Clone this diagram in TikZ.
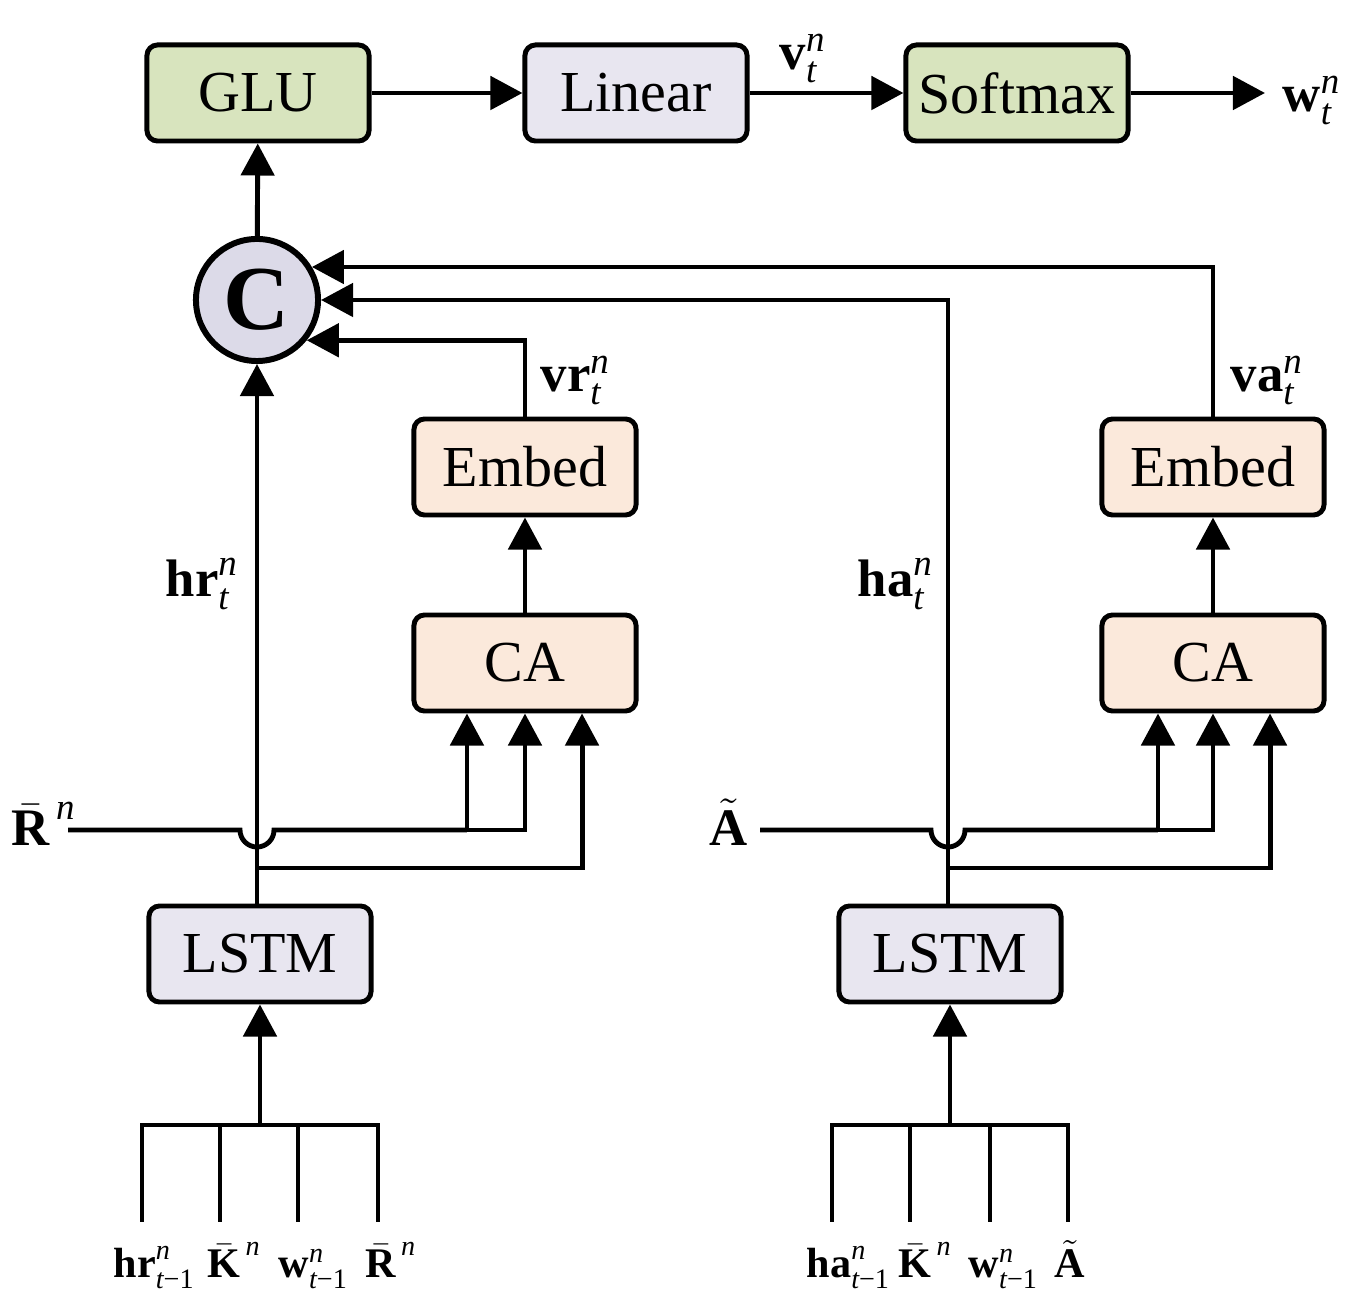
\documentclass[tikz,border=0pt]{standalone}
\usepackage{amsmath}
\usepackage{fontspec}
\setmainfont{Liberation Serif}
\usetikzlibrary{arrows.meta,positioning}

\definecolor{blockgreen}{RGB}{216,228,190}
\definecolor{blockgrey}{RGB}{232,230,240}
\definecolor{blockpeach}{RGB}{251,233,219}
\definecolor{catfill}{RGB}{220,218,232}

\begin{document}
\begin{tikzpicture}[x=0.01cm, y=-0.01cm,
        every node/.style={font=\fontsize{16.5}{20}\selectfont},
        block/.style={draw, line width=1.4pt, rounded corners=3pt, minimum width=2.22cm, minimum height=0.96cm, inner sep=0pt},
        wire/.style={line width=1.4pt},
        arr/.style={wire, -{Triangle[length=0.32cm, width=0.33cm]}},
        lbl/.style={inner sep=0pt, font=\fontsize{15}{18}\selectfont},
        inlbl/.style={inner sep=0pt, anchor=base west, font=\fontsize{12}{15}\selectfont}
    ]
    \useasboundingbox (0,0) rectangle (1354,1307);

    % top row
    \node[block, fill=blockgreen] (glu) at (258,93) {GLU};
    \node[block, fill=blockgrey] (lin) at (636,93) {Linear};
    \node[block, fill=blockgreen] (soft) at (1017,93) {Softmax};
    \node[lbl, anchor=base west] (wout) at (1282,112) {$\textbf{w}_{\textit{t}}^{\textit{n}}$};
    \node[lbl, anchor=base west] (vlab) at (779,70) {$\textbf{v}_{\textit{t}}^{\textit{n}}$};

    \draw[arr] (glu) -- (lin);
    \draw[arr] (lin) -- (soft);
    \draw[arr] (soft.east) -- ([xshift=-0.17cm]soft.east -| wout.west);

    % concatenation
    \node[circle, draw, line width=1.7pt, fill=catfill, minimum size=1.22cm, inner sep=0pt,
          font=\fontsize{26}{26}\selectfont\bfseries] (cat) at (257,300) {C};
    \draw[arr] (cat) -- (glu);

    % left branch
    \node[block, fill=blockpeach] (embL) at (525,467) {Embed};
    \node[block, fill=blockpeach] (caL) at (525,663) {CA};
    \node[block, fill=blockgrey] (lstmL) at (260,954) {LSTM};
    \draw[arr] (caL) -- (embL);
    \draw[arr] (embL.north) |- (cat.-39);
    \draw[arr] (lstmL.north -| cat) -- (cat);
    \node[lbl, anchor=base west] (vrlab) at (540,392) {$\textbf{vr}_{\textit{t}}^{\textit{n}}$};
    \node[lbl, anchor=base west] (hrlab) at (165,597) {$\textbf{hr}_{\textit{t}}^{\textit{n}}$};

    \node[lbl, anchor=base west] (rbar) at (11,846) {$\bar{\textbf{R}}^{\,\textit{n}}$};
    \coordinate (rin) at (68,830);
    \coordinate (hopL) at (257,830);
    \coordinate (jL) at (257,868);
    \draw[wire] (rin) -- ([xshift=-0.17cm]hopL) arc[start angle=180, end angle=360, radius=0.17cm]
        -- ([xshift=-0.58cm]caL.south |- rin);
    \draw[arr] ([xshift=-0.58cm]caL.south |- rin) -| (caL.south);
    \draw[arr] ([xshift=-0.58cm]caL.south |- rin) -- ([xshift=-0.58cm]caL.south);
    \draw[arr] (jL) -| ([xshift=0.57cm]caL.south);

    % right branch
    \node[block, fill=blockpeach] (embR) at (1213,467) {Embed};
    \node[block, fill=blockpeach] (caR) at (1213,663) {CA};
    \node[block, fill=blockgrey] (lstmR) at (950,954) {LSTM};
    \draw[arr] (caR) -- (embR);
    \draw[arr] (embR.north) |- (cat.31.6);
    \draw[arr] ([xshift=-0.02cm]lstmR.north) |- (cat.east);
    \node[lbl, anchor=base west] (valab) at (1230,392) {$\textbf{va}_{\textit{t}}^{\textit{n}}$};
    \node[lbl, anchor=base west] (halab) at (857,597) {$\textbf{ha}_{\textit{t}}^{\textit{n}}$};

    \node[lbl, anchor=base west] (atil) at (709,846) {$\tilde{\textbf{A}}$};
    \coordinate (ain) at (760,830);
    \coordinate (hopR) at (948,830);
    \coordinate (jR) at (948,868);
    \draw[wire] (ain) -- ([xshift=-0.17cm]hopR) arc[start angle=180, end angle=360, radius=0.17cm]
        -- ([xshift=-0.55cm]caR.south |- ain);
    \draw[arr] ([xshift=-0.55cm]caR.south |- ain) -| (caR.south);
    \draw[arr] ([xshift=-0.55cm]caR.south |- ain) -- ([xshift=-0.55cm]caR.south);
    \draw[arr] (jR) -| ([xshift=0.57cm]caR.south);

    % LSTM inputs, left
    \coordinate (busL) at (260,1125);
    \foreach \x/\nm in {142/a,220/b,298/c,378/d}
        \coordinate (legL\nm) at (\x,1222);
    \draw[wire] (legLa) |- (busL) -| (legLd);
    \draw[wire] (legLb) -- (legLb |- busL);
    \draw[wire] (legLc) -- (legLc |- busL);
    \draw[arr] (busL) -- (lstmL);
    \node[inlbl] (inLa) at (113,1278) {$\textbf{hr}_{\textit{t}\text{−1}}^{\textit{n}}$};
    \node[inlbl] (inLb) at (207,1278) {$\bar{\textbf{K}}^{\,\textit{n}}$};
    \node[inlbl] (inLc) at (278,1278) {$\textbf{w}_{\textit{t}\text{−1}}^{\textit{n}}$};
    \node[inlbl] (inLd) at (365,1278) {$\bar{\textbf{R}}^{\,\textit{n}}$};

    % LSTM inputs, right
    \coordinate (busR) at (950,1125);
    \foreach \x/\nm in {832/a,910/b,990/c,1068/d}
        \coordinate (legR\nm) at (\x,1222);
    \draw[wire] (legRa) |- (busR) -| (legRd);
    \draw[wire] (legRb) -- (legRb |- busR);
    \draw[wire] (legRc) -- (legRc |- busR);
    \draw[arr] (busR) -- (lstmR);
    \node[inlbl] (inRa) at (806,1278) {$\textbf{ha}_{\textit{t}\text{−1}}^{\textit{n}}$};
    \node[inlbl] (inRb) at (898,1278) {$\bar{\textbf{K}}^{\,\textit{n}}$};
    \node[inlbl] (inRc) at (968,1278) {$\textbf{w}_{\textit{t}\text{−1}}^{\textit{n}}$};
    \node[inlbl] (inRd) at (1054,1278) {$\tilde{\textbf{A}}$};
\end{tikzpicture}
\end{document}
